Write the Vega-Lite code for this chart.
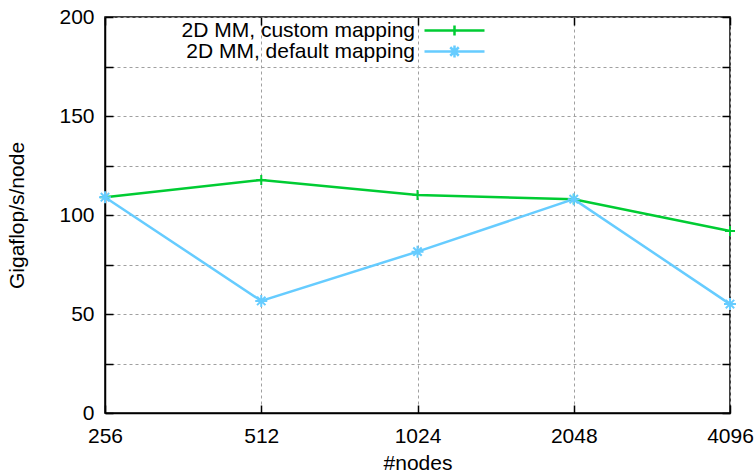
{
  "$schema": "https://vega.github.io/schema/vega-lite/v6.json",
  "width": 625,
  "height": 396,
  "autosize": {"type": "none"},
  "padding": {"left": 105, "top": 17, "right": 26, "bottom": 62},
  "background": "white",
  "config": {
    "font": "Liberation Sans",
    "view": {"stroke": "black", "strokeWidth": 1.5},
    "axis": {
      "labelFont": "Liberation Sans",
      "titleFont": "Liberation Sans",
      "labelFontSize": 21,
      "titleFontSize": 21,
      "titleFontWeight": "normal",
      "labelColor": "black",
      "titleColor": "black",
      "domainColor": "black",
      "domainWidth": 1.5,
      "tickColor": "black",
      "tickWidth": 1.5,
      "gridColor": "#a0a0a0",
      "gridDash": [3, 3],
      "gridWidth": 1,
      "labelFlush": false,
      "labelOverlap": false
    },
    "legend": {"labelFont": "Liberation Sans", "labelFontSize": 21, "labelColor": "black", "labelLimit": 0}
  },
  "data": {
    "values": [
      {"nodes": 256, "series": "2D MM, custom mapping", "gflops": 109},
      {"nodes": 512, "series": "2D MM, custom mapping", "gflops": 117.7},
      {"nodes": 1024, "series": "2D MM, custom mapping", "gflops": 110.1},
      {"nodes": 2048, "series": "2D MM, custom mapping", "gflops": 107.9},
      {"nodes": 4096, "series": "2D MM, custom mapping", "gflops": 91.9},
      {"nodes": 256, "series": "2D MM,  default mapping", "gflops": 109},
      {"nodes": 512, "series": "2D MM,  default mapping", "gflops": 56.6},
      {"nodes": 1024, "series": "2D MM,  default mapping", "gflops": 81.5},
      {"nodes": 2048, "series": "2D MM,  default mapping", "gflops": 108},
      {"nodes": 4096, "series": "2D MM,  default mapping", "gflops": 55}
    ]
  },
  "resolve": {"axis": {"x": "independent", "y": "independent"}},
  "layer": [
    {
      "mark": {"type": "line", "strokeWidth": 2.5},
      "encoding": {
        "x": {
          "field": "nodes", "type": "quantitative",
          "scale": {"type": "log", "base": 2, "domain": [256, 4096], "nice": false},
          "axis": {"values": [256, 512, 1024, 2048, 4096], "format": "d", "title": "#nodes", "tickSize": -8, "labelPadding": 20, "titlePadding": 6, "grid": true}
        },
        "y": {
          "field": "gflops", "type": "quantitative",
          "scale": {"domain": [0, 200], "nice": false},
          "axis": {"values": [0, 25, 50, 75, 100, 125, 150, 175, 200], "labelExpr": "datum.value % 50 == 0 ? datum.label : ''", "title": "Gigaflop/s/node", "tickSize": -8, "labelPadding": 19, "titlePadding": 31, "grid": true}
        },
        "color": {
          "field": "series", "type": "nominal",
          "scale": {"domain": ["2D MM, custom mapping", "2D MM,  default mapping"], "range": ["#00cc33", "#66ccff"]}
        }
      }
    },
    {
      "transform": [{"filter": {"field": "series", "equal": "2D MM, custom mapping"}}],
      "mark": {"type": "point", "shape": "M-1,0H1M0,-1V1", "size": 100, "stroke": "#00cc33", "strokeWidth": 2, "filled": false, "opacity": 1},
      "encoding": {
        "x": {"field": "nodes", "type": "quantitative", "axis": null},
        "y": {"field": "gflops", "type": "quantitative", "axis": null}
      }
    },
    {
      "transform": [{"filter": {"field": "series", "equal": "2D MM,  default mapping"}}],
      "mark": {"type": "point", "shape": "M-1,0H1M0,-1V1M-0.7,-0.7L0.7,0.7M-0.7,0.7L0.7,-0.7", "size": 144, "stroke": "#66ccff", "strokeWidth": 2, "filled": false, "opacity": 1},
      "encoding": {
        "x": {"field": "nodes", "type": "quantitative", "axis": null},
        "y": {"field": "gflops", "type": "quantitative", "axis": null}
      }
    },
    {
      "mark": {"type": "point", "filled": false, "opacity": 0, "strokeWidth": 2.5},
      "encoding": {
        "x": {"field": "nodes", "type": "quantitative", "axis": {"orient": "top", "values": [256, 512, 1024, 2048, 4096], "labels": false, "title": null, "grid": false, "domain": false, "tickSize": -8}},
        "y": {"field": "gflops", "type": "quantitative", "axis": {"orient": "right", "values": [0, 25, 50, 75, 100, 125, 150, 175, 200], "labels": false, "title": null, "grid": false, "domain": false, "tickSize": -8}},
        "color": {"field": "series", "type": "nominal", "legend": {"orient": "none", "legendX": 339, "legendY": 3, "title": null, "symbolSize": 100, "symbolStrokeWidth": 2.5, "symbolOpacity": 1, "labelAlign": "right", "labelOffset": -50, "rowPadding": -3, "labelLimit": 0}},
        "shape": {
          "field": "series", "type": "nominal",
          "scale": {"domain": ["2D MM, custom mapping", "2D MM,  default mapping"], "range": ["M-6,0H6M0,-1V1", "M-6,0H6M0,-1.2V1.2M-0.85,-0.85L0.85,0.85M-0.85,0.85L0.85,-0.85"]},
          "legend": {"orient": "none", "legendX": 339, "legendY": 3, "title": null, "symbolSize": 100, "symbolStrokeWidth": 2.5, "symbolOpacity": 1, "labelAlign": "right", "labelOffset": -50, "rowPadding": -3, "labelLimit": 0}
        }
      }
    }
  ]
}
